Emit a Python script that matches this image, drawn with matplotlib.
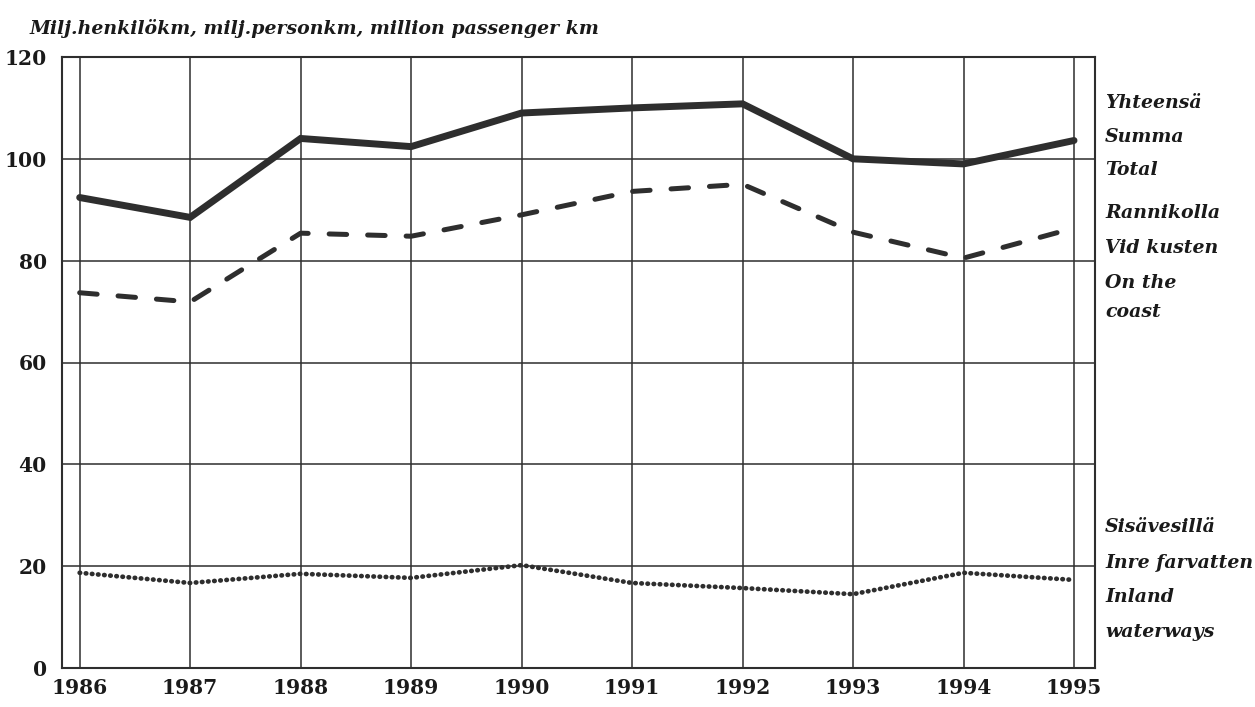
import matplotlib
matplotlib.use("Agg")
import matplotlib.pyplot as plt

years = [1986, 1987, 1988, 1989, 1990, 1991, 1992, 1993, 1994, 1995]
total = [92.4, 88.5, 104.0, 102.4, 109.0, 110.0, 110.8, 100.0, 99.0, 103.6]
coast = [73.7, 71.9, 85.4, 84.8, 89.0, 93.6, 95.0, 85.6, 80.5, 86.4]
inland = [18.7, 16.7, 18.5, 17.7, 20.2, 16.7, 15.7, 14.5, 18.7, 17.3]
yticks = [0, 20, 40, 60, 80, 100, 120]

title = "Milj.henkilökm, milj.personkm, million passenger km"
lab_total = ["Yhteensä", "Summa", "Total"]
lab_coast = ["Rannikolla", "Vid kusten", "On the", "coast"]
lab_inland = ["Sisävesillä", "Inre farvatten", "Inland", "waterways"]

serif = ["DejaVu Serif"]
ink = "#2e2e2e"

fig = plt.figure(figsize=(12.55, 7.07), dpi=100)
fig.patch.set_facecolor("white")
ax = fig.add_axes([62 / 1255, 1 - 668 / 707, (1095 - 62) / 1255, (668 - 57) / 707])

ax.plot(years, total, color=ink, lw=5.0, solid_capstyle="round", solid_joinstyle="miter", zorder=3)
ax.plot(years, coast, color=ink, lw=3.6, dashes=(3.5, 4.2), dash_capstyle="round", zorder=3)
ax.plot(years, inland, color=ink, lw=3.4, dashes=(0.1, 1.2), dash_capstyle="round", zorder=3)

ax.set_xlim(1985.84, 1995.19)
ax.set_ylim(0, 120)
ax.set_xticks(years)
ax.set_yticks(yticks)
ax.grid(True, color=ink, lw=1.1)
ax.set_axisbelow(True)
for s in ax.spines.values():
    s.set_color(ink)
    s.set_linewidth(1.5)
ax.tick_params(axis="x", length=0, pad=7, colors="#1a1a1a")
ax.tick_params(axis="y", length=0, pad=11, colors="#1a1a1a")
for t in ax.get_xticklabels() + ax.get_yticklabels():
    t.set_fontfamily(serif)
    t.set_fontweight("bold")
    t.set_fontsize(14.6)

fig.text(30 / 1255, 1 - 28 / 707, title, family=serif, style="italic", weight="bold",
         fontsize=13.6, color="#1a1a1a", va="center", ha="left")

def put(labels, ys):
    for s, y in zip(labels, ys):
        fig.text(1105 / 1255, 1 - y / 707, s, family=serif, style="italic", weight="bold",
                 fontsize=13.6, color="#1a1a1a", va="center", ha="left")

put(lab_total, [103, 137, 170])
put(lab_coast, [213, 248, 283, 312])
put(lab_inland, [527, 563, 597, 632])

fig.savefig("out.png", dpi=100, facecolor="white")
